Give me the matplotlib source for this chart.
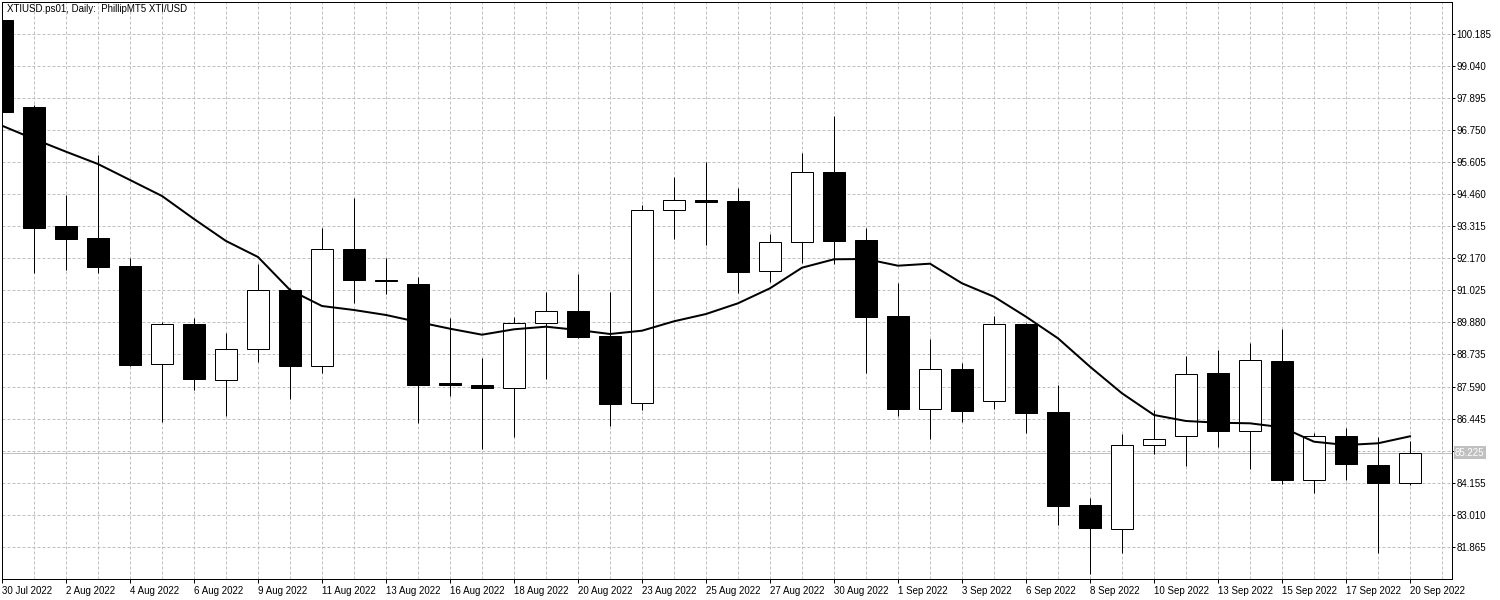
import matplotlib
matplotlib.use("Agg")
import matplotlib.pyplot as plt
import numpy as np

# one screen pixel in points (figure is saved at 100 dpi)
PX = 0.72
GRID = "#c0c0c0"

TITLE = "XTIUSD.ps01, Daily:  PhillipMT5 XTI/USD"

# labels under every second bar
date_labels = ["30 Jul 2022", "2 Aug 2022", "4 Aug 2022", "6 Aug 2022",
               "9 Aug 2022", "11 Aug 2022", "13 Aug 2022", "16 Aug 2022",
               "18 Aug 2022", "20 Aug 2022", "23 Aug 2022", "25 Aug 2022",
               "27 Aug 2022", "30 Aug 2022", "1 Sep 2022", "3 Sep 2022",
               "6 Sep 2022", "8 Sep 2022", "10 Sep 2022", "13 Sep 2022",
               "15 Sep 2022", "17 Sep 2022", "20 Sep 2022"]

opens = [100.685, 97.577, 93.315, 92.897, 91.896, 88.385, 89.813, 87.813,
         88.920, 91.028, 88.334, 92.493, 91.410, 91.253, 87.700, 87.630,
         87.527, 89.849, 90.278, 89.395, 86.991, 93.886, 94.250, 94.219,
         91.707, 92.743, 95.244, 92.815, 90.099, 86.798, 88.206, 87.063,
         89.813, 86.670, 83.347, 82.489, 85.490, 85.812, 88.074, 85.991,
         88.502, 84.240, 85.812, 84.787, 84.154]
highs = [100.750, 97.648, 94.433, 95.862, 92.171, 89.885, 90.028, 89.503,
         91.957, 91.100, 93.243, 94.315, 92.171, 91.503, 90.039, 88.599,
         90.074, 90.967, 91.621, 90.967, 94.065, 95.076, 95.612, 94.672,
         93.029, 95.944, 97.255, 93.254, 91.289, 89.288, 88.431, 90.110,
         89.870, 87.634, 83.597, 85.884, 86.752, 88.681, 88.895, 89.145,
         89.646, 85.919, 86.109, 85.787, 85.655]
lows = [97.300, 91.646, 91.764, 91.646, 88.340, 86.334, 87.477, 86.548,
        88.477, 87.145, 88.084, 90.564, 90.907, 86.287, 87.263, 85.348,
        85.798, 87.870, 89.330, 86.191, 86.752, 92.872, 92.657, 90.921,
        91.336, 92.014, 91.957, 88.084, 86.548, 85.715, 86.334, 86.777,
        85.941, 82.643, 80.892, 81.653, 85.190, 84.762, 85.430, 84.644,
        84.097, 83.776, 84.262, 81.653, 84.061]
closes = [97.409, 93.265, 92.872, 91.871, 88.359, 89.813, 87.870, 88.920,
          91.028, 88.334, 92.493, 91.407, 91.350, 87.656, 87.640, 87.550,
          89.849, 90.278, 89.370, 86.977, 93.886, 94.244, 94.190, 91.693,
          92.743, 95.244, 92.800, 90.085, 86.798, 88.206, 86.727, 89.813,
          86.655, 83.333, 82.536, 85.490, 85.705, 88.027, 86.012, 88.527,
          84.262, 85.812, 84.833, 84.154, 85.225]

# moving average line
ma = [96.909, 96.434, 95.980, 95.540, 94.969, 94.397, 93.576, 92.790,
      92.218, 91.039, 90.467, 90.324, 90.146, 89.896, 89.656, 89.442,
      89.635, 89.728, 89.610, 89.467, 89.585, 89.921, 90.181, 90.564,
      91.100, 91.836, 92.136, 92.146, 91.907, 91.979, 91.278, 90.800,
      90.085, 89.313, 88.299, 87.348, 86.573, 86.359, 86.298, 86.276,
      86.134, 85.619, 85.501, 85.562, 85.812]

price_ticks = [100.185, 99.040, 97.895, 96.750, 95.605, 94.460, 93.315,
               92.170, 91.025, 89.880, 88.735, 87.590, 86.445, 85.300,
               84.155, 83.010, 81.865]
hidden_tick = 85.300
last_price = 85.225


def main():
    plt.rcParams["font.family"] = ["Liberation Sans", "DejaVu Sans"]
    plt.rcParams["font.size"] = 7

    fig = plt.figure(figsize=(15, 6), dpi=100)
    ax = fig.add_axes([2 / 1500, 1 - 579 / 600, 1450 / 1500, 577 / 600])

    x = np.arange(len(opens))
    o = np.array(opens)
    c = np.array(closes)
    bear = c < o

    # wicks first, bodies on top
    ax.vlines(x, lows, highs, color="black", lw=PX, zorder=3)
    ax.bar(x, np.abs(c - o), width=0.69, bottom=np.minimum(o, c),
           color=np.where(bear, "black", "white"), edgecolor="black",
           linewidth=PX, zorder=4)

    ax.plot(x, ma, color="black", lw=2 * PX, zorder=5)

    # last price line and its label on the price scale
    ax.axhline(last_price, color=GRID, lw=PX, zorder=2)
    ax.text(1.0021, last_price, "%.3f" % last_price,
            transform=ax.get_yaxis_transform(), color="white",
            ha="left", va="center", fontsize=7, clip_on=False,
            bbox=dict(boxstyle="square,pad=0.15", facecolor=GRID,
                      edgecolor="none"))

    ax.set_xlim(0, 1450 / 32)
    ax.set_ylim(100.185 - 545 / 27.99, 100.185 + 32 / 27.99)

    ax.yaxis.tick_right()
    ax.set_yticks(price_ticks)
    ax.set_yticklabels(["" if t == hidden_tick else "%.3f" % t
                        for t in price_ticks])
    ax.tick_params(axis="y", direction="out", length=3 * PX, width=PX,
                   pad=1, labelsize=7)

    ax.set_xticks(np.arange(0, len(opens), 2))
    ax.set_xticklabels(date_labels, ha="left")
    ax.set_xticks(np.arange(0, 46), minor=True)
    ax.tick_params(axis="x", which="major", direction="out", length=4 * PX,
                   width=PX, pad=2, labelsize=7)
    ax.tick_params(axis="x", which="minor", length=0)

    ax.set_axisbelow(True)
    ax.grid(True, which="both", color=GRID, linestyle=(0, (3, 2)), lw=PX)

    for s in ax.spines.values():
        s.set_linewidth(PX)
        s.set_color("black")

    ax.text(5 / 1450, 1 - 7 / 577, TITLE, transform=ax.transAxes,
            ha="left", va="center", fontsize=7, zorder=6)

    fig.savefig("out.png", dpi=100, facecolor="white")


if __name__ == "__main__":
    main()
